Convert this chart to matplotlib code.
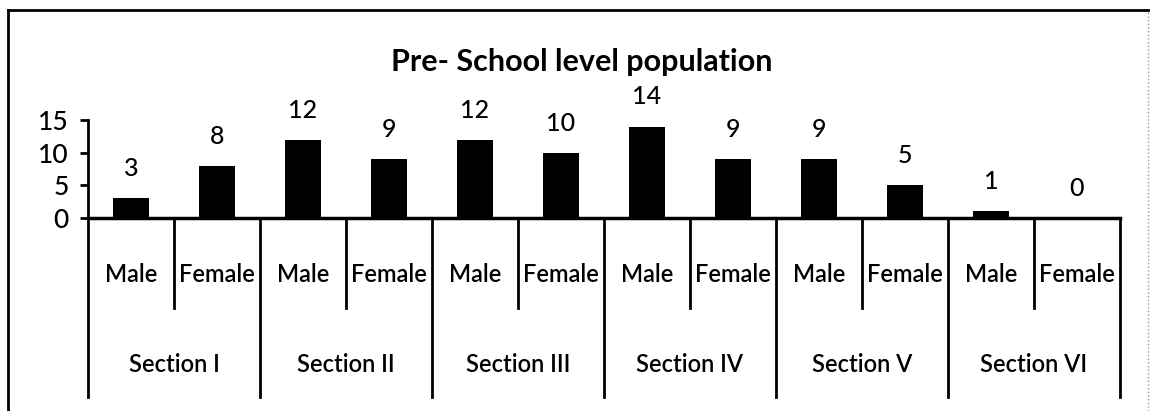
import matplotlib.pyplot as plt
from matplotlib.lines import Line2D
import numpy as np

# data
sections = ['Section I', 'Section II', 'Section III', 'Section IV', 'Section V', 'Section VI']
genders = ['Male', 'Female']
male = [3, 12, 12, 14, 9, 1]
female = [8, 9, 10, 9, 5, 0]
yticks = [0, 5, 10, 15]

plt.rcParams['font.family'] = ['Lato', 'DejaVu Sans']

W, H = 1151, 411
fig = plt.figure(figsize=(W / 100, H / 100), dpi=100)

# axes placed in pixel terms: x from 88 to 1120, y=0 at 218 px, y=15 at 120 px
ax = fig.add_axes([88 / W, (H - 218) / H, (1120 - 88) / W, 98 / H])

values = []
for m, f in zip(male, female):
    values += [m, f]
x = np.arange(len(values))

ax.bar(x, values, width=0.42, color='black')
for xi, v in zip(x, values):
    ax.annotate(str(v), (xi, v), xytext=(0, 13), textcoords='offset points',
                ha='center', va='bottom', fontsize=18, fontweight='medium')

ax.set_xlim(-0.5, len(values) - 0.5)
ax.set_ylim(0, 15)
ax.set_yticks(yticks)
ax.tick_params(axis='y', length=6, width=2, labelsize=19, pad=8)
for lbl in ax.get_yticklabels():
    lbl.set_fontweight('medium')
ax.set_xticks([])
for s in ['top', 'right']:
    ax.spines[s].set_visible(False)
ax.spines['left'].set_linewidth(2)
ax.spines['bottom'].set_linewidth(2.5)

# multi-level category axis drawn below the plot
trans = ax.get_xaxis_transform()
for i in range(len(values) + 1):
    xb = i - 0.5
    depth = -1.83 if i % 2 == 0 else -0.92
    ax.plot([xb, xb], [0, depth], color='black', lw=2, transform=trans, clip_on=False)
for xi in x:
    ax.text(xi, -0.58, genders[xi % 2], transform=trans, ha='center', va='center',
            fontsize=17, fontweight='semibold')
for j, name in enumerate(sections):
    ax.text(2 * j + 0.5, -1.5, name, transform=trans, ha='center', va='center',
            fontsize=17, fontweight='semibold')

fig.text(582 / W, 1 - 62 / H, 'Pre- School level population', ha='center',
         va='center', fontsize=22, fontweight='bold')

# outer frame
fig.add_artist(Line2D([8 / W, 8 / W], [0, 1 - 10 / H], color='black', lw=2))
fig.add_artist(Line2D([8 / W, 1148 / W], [1 - 10 / H, 1 - 10 / H], color='black', lw=2))
fig.add_artist(Line2D([1148 / W, 1148 / W], [0, 1 - 10 / H], color='#999999', lw=1,
                      linestyle=':'))

fig.savefig('out.png', dpi=100)
